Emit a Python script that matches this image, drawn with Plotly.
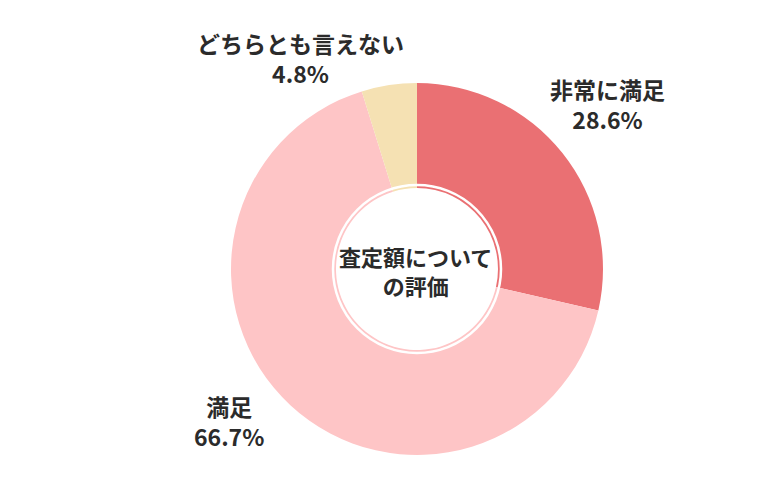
import plotly.graph_objects as go

labels = ["非常に満足", "満足", "どちらとも言えない"]
values = [28.6, 66.7, 4.8]
colors = ["#EA7073", "#FEC5C6", "#F5E1B3"]
center_title = "査定額について<br>の評価"

W, H = 780, 500
cx, cy, R = 417, 269, 186
hole_r = 81
ring_r = 84

fig = go.Figure(go.Pie(
    labels=labels, values=values, sort=False, direction="clockwise", rotation=0,
    hole=hole_r / R, marker=dict(colors=colors, line=dict(width=0)),
    textinfo="none", hoverinfo="label+percent", showlegend=False,
    domain=dict(x=[(cx - R) / W, (cx + R) / W], y=[1 - (cy + R) / H, 1 - (cy - R) / H]),
))

FONT = "Noto Sans CJK JP, Noto Sans, sans-serif"
TXT = "#2b2b2b"

# label block placement (pixel centres)
label_pos = {
    "非常に満足": (607, 104),
    "満足": (229, 421),
    "どちらとも言えない": (300, 58),
}

ann = []
for lab, val in zip(labels, values):
    x, y = label_pos[lab]
    ann.append(dict(x=x / W, y=1 - y / H, xref="paper", yref="paper",
                    text=f"<b>{lab}</b><br><b>{val}%</b>",
                    showarrow=False, font=dict(family=FONT, size=23, color=TXT),
                    xanchor="center", yanchor="middle", align="center"))

ann.append(dict(x=415 / W, y=1 - 270 / H, xref="paper", yref="paper",
                text="<b>" + center_title.replace("<br>", "</b><br><b>") + "</b>",
                showarrow=False, font=dict(family=FONT, size=22, color=TXT),
                xanchor="center", yanchor="middle", align="center"))

fig.update_layout(
    width=W, height=H, margin=dict(l=0, r=0, t=0, b=0),
    paper_bgcolor="white", plot_bgcolor="white",
    annotations=ann,
    shapes=[dict(type="circle", xref="paper", yref="paper",
                 x0=(cx - ring_r) / W, x1=(cx + ring_r) / W,
                 y0=1 - (cy + ring_r) / H, y1=1 - (cy - ring_r) / H,
                 line=dict(color="white", width=2.5), layer="above")],
)

fig.write_html("out.html")
